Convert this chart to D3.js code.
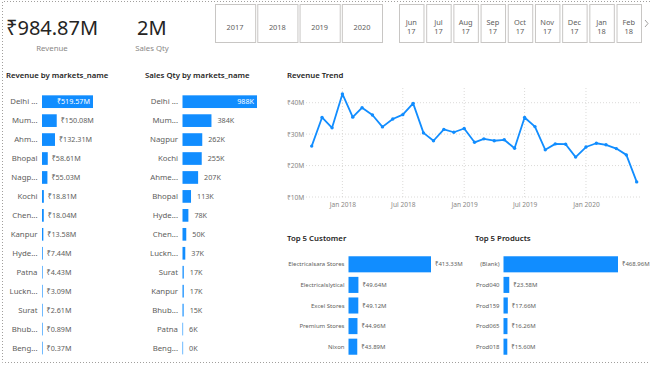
<!DOCTYPE html>
<html>
<head>
<meta charset="utf-8">
<script src="https://cdn.jsdelivr.net/npm/d3@7"></script>
<style>
  body { margin: 0; background: #fff; }
  svg { display: block; font-family: 'Noto Sans', 'Open Sans', 'DejaVu Sans', sans-serif; }
  .title { font-size: 7.8px; fill: #252423; font-weight: 600; }
  .lbl { font-size: 7.8px; fill: #605e5c; }
  .lbl.val { font-size: 7.2px; }
  .small { font-size: 6px; fill: #605e5c; }
  .slicer rect { fill: #fff; stroke: #c8c6c4; stroke-width: 1; }
  .slicer text { font-size: 7.4px; fill: #605e5c; text-anchor: middle; }
</style>
</head>
<body>
<div id="root"></div>
<script>
// ---- data ----
const kpiRevenue = '₹984.87M';
const kpiQty = '2M';

const years = ['2017', '2018', '2019', '2020'];
const months = ['Jun', 'Jul', 'Aug', 'Sep', 'Oct', 'Nov', 'Dec', 'Jan', 'Feb'];
const monthYears = ['17', '17', '17', '17', '17', '17', '17', '18', '18'];

const revMarkets = ['Delhi ...', 'Mum...', 'Ahm...', 'Bhopal', 'Nagp...', 'Kochi', 'Chen...', 'Kanpur', 'Hyde...', 'Patna', 'Luckn...', 'Surat', 'Bhub...', 'Beng...'];
const revValues = [519.57, 150.08, 132.31, 58.61, 55.03, 18.81, 18.04, 13.58, 7.44, 4.43, 3.09, 2.61, 0.89, 0.37];

const qtyMarkets = ['Delhi ...', 'Mum...', 'Nagpur', 'Kochi', 'Ahme...', 'Bhopal', 'Hyde...', 'Chen...', 'Luckn...', 'Surat', 'Kanpur', 'Bhub...', 'Patna', 'Beng...'];
const qtyValues = [988, 384, 262, 255, 207, 113, 78, 50, 37, 17, 17, 15, 6, 0];

const trendMonths = ['2017-10', '2017-11', '2017-12', '2018-01', '2018-02', '2018-03', '2018-04', '2018-05', '2018-06', '2018-07', '2018-08',
  '2018-09', '2018-10', '2018-11', '2018-12', '2019-01', '2019-02', '2019-03', '2019-04', '2019-05', '2019-06', '2019-07',
  '2019-08', '2019-09', '2019-10', '2019-11', '2019-12', '2020-01', '2020-02', '2020-03', '2020-04', '2020-05', '2020-06'];
const trendValues = [26.2, 35.3, 32.0, 42.8, 35.4, 38.4, 36.1, 32.3, 34.8, 36.2, 39.8,
  30.4, 27.9, 31.5, 30.6, 31.8, 27.4, 28.5, 27.9, 28.2, 25.5, 35.3,
  32.4, 25.0, 26.9, 26.8, 22.7, 25.9, 27.1, 26.6, 25.4, 23.4, 14.8];
const trendTicks = [10, 20, 30, 40];

const customers = ['Electricalsara Stores', 'Electricalslytical', 'Excel Stores', 'Premium Stores', 'Nixon'];
const customerValues = [413.33, 49.64, 49.12, 44.96, 43.89];

const products = ['(Blank)', 'Prod040', 'Prod159', 'Prod065', 'Prod018'];
const productValues = [468.96, 23.58, 17.66, 16.26, 15.60];

//-----------------------------------------------------------------------
const blue = '#118dff';
const W = 650, H = 366;
const money = v => '₹' + d3.format('.2f')(v) + 'M';

const svg = d3.select('#root').append('svg')
  .attr('width', W)
  .attr('height', H);

// canvas border (dotted)
svg.append('path')
  .attr('d', `M${W},1.5 H2.5 V362.5 H${W}`)
  .attr('fill', 'none')
  .attr('stroke', '#a19f9d')
  .attr('stroke-width', 1)
  .attr('stroke-dasharray', '1,2');

// ---- KPI cards ----
svg.append('text').attr('x', 6).attr('y', 35)
  .style('font-size', '20px').style('fill', '#252423')
  .text(kpiRevenue);
svg.append('text').attr('x', 52).attr('y', 51)
  .attr('class', 'lbl').style('text-anchor', 'middle').style('fill', '#8a8886')
  .text('Revenue');
svg.append('text').attr('x', 137).attr('y', 35)
  .style('font-size', '20px').style('fill', '#252423')
  .text(kpiQty);
svg.append('text').attr('x', 152).attr('y', 51)
  .attr('class', 'lbl').style('text-anchor', 'middle').style('fill', '#8a8886')
  .text('Sales Qty');

// ---- slicers ----
const yearX = d3.scaleBand().domain(years).range([215, 382]).paddingInner(0.05);
const yearG = svg.append('g').attr('class', 'slicer')
  .selectAll('g').data(years).enter().append('g')
  .attr('transform', d => `translate(${yearX(d)},4)`);
yearG.append('rect').attr('x', 0.5).attr('y', 0.5)
  .attr('width', yearX.bandwidth()).attr('height', 38);
yearG.append('text').attr('x', yearX.bandwidth() / 2).attr('y', 26).text(d => d);

const monthX = d3.scaleBand().domain(months.map((m, i) => i)).range([399, 641]).paddingInner(0.1);
const monthG = svg.append('g').attr('class', 'slicer')
  .selectAll('g').data(months).enter().append('g')
  .attr('transform', (d, i) => `translate(${monthX(i)},4)`);
monthG.append('rect').attr('x', 0.5).attr('y', 0.5)
  .attr('width', monthX.bandwidth()).attr('height', 38);
monthG.append('text').attr('x', monthX.bandwidth() / 2).attr('y', 21).text(d => d);
monthG.append('text').attr('x', monthX.bandwidth() / 2).attr('y', 30).text((d, i) => monthYears[i]);
svg.append('path').attr('d', 'M645,20 L648,23.5 L645,27')
  .attr('fill', 'none').attr('stroke', '#8a8886').attr('stroke-width', 0.8);

// ---- horizontal bar chart helper ----
function barChart(opt) {
  const g = svg.append('g');
  g.append('text').attr('class', 'title').attr('x', opt.titleX).attr('y', opt.titleY).text(opt.title);
  const y = d3.scaleBand().domain(d3.range(opt.names.length))
    .range(opt.yRange).paddingInner(opt.pad).paddingOuter(opt.pad / 2);
  const x = d3.scaleLinear().domain([0, d3.max(opt.values)]).range(opt.xRange);
  const rows = g.selectAll('g.row').data(opt.values).enter().append('g')
    .attr('class', 'row');
  rows.append('rect')
    .attr('x', x(0))
    .attr('y', (d, i) => y(i))
    .attr('height', y.bandwidth())
    .attr('width', d => Math.max(x(d) - x(0), 0.6))
    .attr('fill', blue);
  rows.append('text')
    .attr('class', opt.textClass)
    .attr('x', x(0) - opt.labelGap)
    .attr('y', (d, i) => y(i) + y.bandwidth() / 2)
    .attr('dy', '0.35em')
    .style('text-anchor', 'end')
    .text((d, i) => opt.names[i]);
  rows.append('text')
    .attr('class', opt.textClass + ' val')
    .attr('y', (d, i) => y(i) + y.bandwidth() / 2)
    .attr('dy', '0.35em')
    .each(function (d, i) {
      const inside = i === 0 && opt.insideFirst;
      d3.select(this)
        .attr('x', inside ? x(d) - 3 : Math.max(x(d), x(0) + 0.6) + opt.valueGap)
        .style('text-anchor', inside ? 'end' : 'start')
        .style('fill', inside ? '#fff' : null)
        .text(opt.format(d));
    });
}

barChart({
  title: 'Revenue by markets_name', titleX: 6, titleY: 78,
  names: revMarkets, values: revValues,
  yRange: [92.2, 357.5], pad: 0.33, xRange: [42, 93],
  labelGap: 4.5, valueGap: 4, textClass: 'lbl', insideFirst: true,
  format: money
});

barChart({
  title: 'Sales Qty by markets_name', titleX: 145, titleY: 78,
  names: qtyMarkets, values: qtyValues,
  yRange: [92.2, 357.5], pad: 0.33, xRange: [182.5, 257],
  labelGap: 4.5, valueGap: 6, textClass: 'lbl', insideFirst: true,
  format: v => d3.format('.0f')(v) + 'K'
});

barChart({
  title: 'Top 5 Customer', titleX: 287, titleY: 241,
  names: customers, values: customerValues,
  yRange: [254, 357], pad: 0.22, xRange: [348.5, 431],
  labelGap: 4, valueGap: 4, textClass: 'small', insideFirst: false,
  format: money
});

barChart({
  title: 'Top 5 Products', titleX: 475, titleY: 241,
  names: products, values: productValues,
  yRange: [254, 357], pad: 0.22, xRange: [503.5, 618],
  labelGap: 4, valueGap: 4, textClass: 'small', insideFirst: false,
  format: money
});

// ---- Revenue Trend line ----
const parseMonth = d3.timeParse('%Y-%m');
const trend = trendMonths.map((m, i) => ({ date: parseMonth(m), value: trendValues[i] }));

svg.append('text').attr('class', 'title').attr('x', 287).attr('y', 78).text('Revenue Trend');

const tx = d3.scaleTime().domain(d3.extent(trend, d => d.date)).range([311.7, 636.7]);
const ty = d3.scaleLinear().domain([10, 40]).range([197, 102.7]);

const grid = svg.append('g');
grid.selectAll('line.h').data(trendTicks).enter().append('line')
  .attr('x1', 303).attr('x2', 641)
  .attr('y1', d => ty(d)).attr('y2', d => ty(d))
  .attr('stroke', '#d2d0ce').attr('stroke-width', 0.8).attr('stroke-dasharray', '1,2');

const xTicks = [parseMonth('2018-01'), parseMonth('2018-07'), parseMonth('2019-01'), parseMonth('2019-07'), parseMonth('2020-01')];
grid.selectAll('line.v').data(xTicks).enter().append('line')
  .attr('x1', d => tx(d)).attr('x2', d => tx(d))
  .attr('y1', 88).attr('y2', 197)
  .attr('stroke', '#d2d0ce').attr('stroke-width', 0.8).attr('stroke-dasharray', '1,2');

const yAxis = d3.axisLeft(ty).tickValues(trendTicks).tickSize(0).tickFormat(d => '₹' + d + 'M');
svg.append('g')
  .attr('transform', 'translate(287,0)')
  .call(yAxis)
  .call(g => g.select('.domain').remove())
  .selectAll('text')
  .attr('x', 0)
  .style('text-anchor', 'start')
  .style('font-size', '6.6px')
  .style('fill', '#8a8886')
  .style('font-family', "'Noto Sans', 'Open Sans', 'DejaVu Sans', sans-serif");

const xAxis = d3.axisBottom(tx).tickValues(xTicks).tickSize(0).tickFormat(d3.timeFormat('%b %Y'));
svg.append('g')
  .attr('transform', 'translate(0,199)')
  .call(xAxis)
  .call(g => g.select('.domain').remove())
  .selectAll('text')
  .style('font-size', '6.6px')
  .style('fill', '#8a8886')
  .style('font-family', "'Noto Sans', 'Open Sans', 'DejaVu Sans', sans-serif");

const line = d3.line().x(d => tx(d.date)).y(d => ty(d.value));
svg.append('path')
  .datum(trend)
  .attr('d', line)
  .attr('fill', 'none')
  .attr('stroke', blue)
  .attr('stroke-width', 1.8)
  .attr('stroke-linejoin', 'round');
svg.selectAll('circle.pt').data(trend).enter().append('circle')
  .attr('cx', d => tx(d.date))
  .attr('cy', d => ty(d.value))
  .attr('r', 1.7)
  .attr('fill', blue);
</script>
</body>
</html>
